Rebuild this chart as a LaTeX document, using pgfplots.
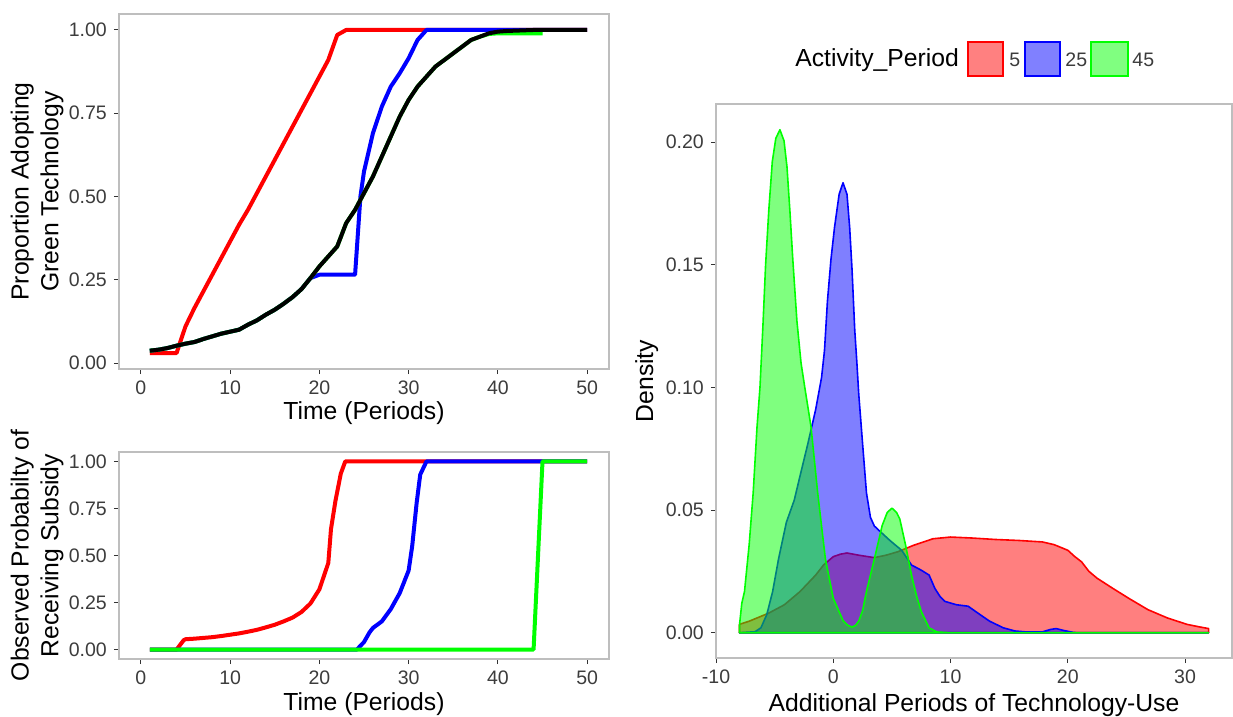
\documentclass[border=0pt]{standalone}
\usepackage{pgfplots}
\pgfplotsset{compat=1.18}
\usepackage{fontspec}
\setmainfont{Liberation Sans}

\definecolor{frame}{RGB}{190,190,190}
\definecolor{tickc}{RGB}{51,51,51}
\definecolor{ticktext}{RGB}{60,60,60}
\definecolor{ggred}{RGB}{255,0,0}
\definecolor{ggblue}{RGB}{0,0,255}
\definecolor{gggreen}{RGB}{0,255,0}

\newcommand\tickfont{\fontsize{9.8}{11}\selectfont}
\newcommand\titlefont{\fontsize{12.4}{15}\selectfont}

\pgfplotsset{
  panel/.style={
    scale only axis, anchor=south west,
    axis line style={draw=frame, line width=0.7bp},
    tick align=outside, major tick length=2.6bp,
    tick style={draw=tickc, line width=0.5bp},
    xtick pos=bottom, ytick pos=left,
    tick label style={font=\tickfont, text=ticktext},
    label style={font=\titlefont},
    /pgf/number format/assume math mode=true,
    yticklabel style={/pgf/number format/fixed, /pgf/number format/fixed zerofill,
      /pgf/number format/precision=2},
    clip=true,
  },
  line/.style={line width=2bp, line join=round},
  dens/.style={line width=0.8bp, fill opacity=0.5, draw opacity=1, line join=round},
}

\begin{document}
\begin{tikzpicture}
\path[use as bounding box] (0,0) rectangle (616.5bp,358.5bp);

% top left: adoption
\begin{axis}[panel, at={(59.5bp,174bp)}, width=245bp, height=177.5bp,
  xmin=-2.45, xmax=52.45, ymin=-0.018, ymax=1.048,
  xtick={0,10,20,30,40,50}, ytick={0,0.25,0.5,0.75,1},
  xlabel={Time (Periods)},
  xlabel style={at={(axis description cs:0.5,0)}, anchor=base, yshift=-25.5bp},
  ylabel={Proportion Adopting\\Green Technology},
  ylabel style={align=center, at={(axis description cs:-0.167,0.5)}, anchor=center},
]
\addplot[line, ggred] coordinates {
 (1,0.03) (2,0.03) (3,0.03) (4,0.03) (4.5,0.07) (5,0.11) (6,0.165) (7,0.215)
 (8,0.265) (9,0.315) (10,0.365) (11,0.415) (12,0.46) (13,0.51) (14,0.56)
 (15,0.61) (16,0.66) (17,0.71) (18,0.76) (19,0.81) (20,0.86) (21,0.91)
 (22,0.985) (23,1) (30,1) (40,1) (50,1)};
\addplot[line, ggblue] coordinates {
 (1,0.037) (2,0.040) (3,0.045) (4,0.052) (5,0.058) (6,0.063) (7,0.072)
 (8,0.080) (9,0.088) (10,0.094) (11,0.100) (12,0.115) (13,0.128) (14,0.145)
 (15,0.160) (16,0.178) (17,0.198) (18,0.222) (19,0.255) (20,0.265) (24,0.265)
 (24.6,0.5) (25,0.575) (26,0.69) (27,0.77) (28,0.83) (29,0.87) (30,0.915)
 (31,0.97) (32,1) (40,1) (50,1)};
\addplot[line, gggreen] coordinates {
 (1,0.037) (2,0.040) (3,0.045) (4,0.052) (5,0.058) (6,0.063) (7,0.072)
 (8,0.080) (9,0.088) (10,0.094) (11,0.100) (12,0.115) (13,0.128) (14,0.145)
 (15,0.160) (16,0.178) (17,0.198) (18,0.222) (19,0.255) (20,0.29) (21,0.32)
 (22,0.35) (23,0.42) (24,0.46) (25,0.51) (26,0.56) (27,0.62) (28,0.68)
 (29,0.74) (30,0.79) (31,0.83) (32,0.86) (33,0.89) (34,0.91) (35,0.93)
 (36,0.95) (37,0.97) (38,0.98) (39,0.988) (40,0.99) (45,0.99)};
\addplot[line, black] coordinates {
 (1,0.037) (2,0.040) (3,0.045) (4,0.052) (5,0.058) (6,0.063) (7,0.072)
 (8,0.080) (9,0.088) (10,0.094) (11,0.100) (12,0.115) (13,0.128) (14,0.145)
 (15,0.160) (16,0.178) (17,0.198) (18,0.222) (19,0.255) (20,0.29) (21,0.32)
 (22,0.35) (23,0.42) (24,0.46) (25,0.51) (26,0.56) (27,0.62) (28,0.68)
 (29,0.74) (30,0.79) (31,0.83) (32,0.86) (33,0.89) (34,0.91) (35,0.93)
 (36,0.95) (37,0.97) (38,0.98) (39,0.99) (40,0.995) (41,0.997) (42,0.998)
 (43,0.999) (44,1) (50,1)};
\end{axis}

% bottom left: subsidy
\begin{axis}[panel, at={(59.5bp,29bp)}, width=245bp, height=103.5bp,
  xmin=-2.45, xmax=52.45, ymin=-0.05, ymax=1.05,
  xtick={0,10,20,30,40,50}, ytick={0,0.25,0.5,0.75,1},
  xlabel={Time (Periods)},
  xlabel style={at={(axis description cs:0.5,0)}, anchor=base, yshift=-25.5bp},
  ylabel={Observed Probabilty of\\Receiving Subsidy},
  ylabel style={align=center, at={(axis description cs:-0.167,0.5)}, anchor=center},
]
\addplot[line, ggred] coordinates {
 (1,0) (4,0) (4.8,0.05) (5,0.055) (6,0.058) (7,0.062) (8,0.066) (9,0.072)
 (10,0.079) (11,0.086) (12,0.095) (13,0.105) (14,0.118) (15,0.132) (16,0.15)
 (17,0.17) (18,0.2) (19,0.245) (20,0.32) (20.5,0.39) (21,0.46) (21.3,0.64)
 (21.8,0.79) (22.4,0.935) (22.9,1) (30,1) (50,1)};
\addplot[line, ggblue] coordinates {
 (1,0) (24.2,0) (25,0.04) (25.6,0.09) (26,0.115) (27,0.15) (28,0.215)
 (29,0.3) (30,0.42) (30.4,0.55) (30.9,0.78) (31.3,0.93) (32,1) (40,1) (50,1)};
\addplot[line, gggreen] coordinates {
 (1,0) (10,0) (20,0) (30,0) (44,0) (45,1) (50,1)};
\end{axis}

% right: densities
\begin{axis}[panel, at={(358bp,29.5bp)}, width=258bp, height=277bp,
  xmin=-10, xmax=34, ymin=-0.0103, ymax=0.2155,
  xtick={-10,0,10,20,30}, xticklabels={-10,0,10,20,30},
  ytick={0,0.05,0.1,0.15,0.2},
  xlabel={Additional Periods of Technology-Use},
  xlabel style={at={(axis description cs:0.5,0)}, anchor=base, yshift=-26.5bp},
  ylabel={Density},
  ylabel style={at={(axis description cs:-0.134,0.5)}, anchor=center},
]
\addplot[dens, draw=ggred, fill=ggred] coordinates {
 (-8,0) (-8,0.0034) (-7.17,0.0047) (-5.5,0.008) (-4.17,0.0114) (-2.83,0.0168)
 (-1.5,0.0235) (-0.83,0.0276) (0,0.031) (0.6,0.032) (1.17,0.0325) (2.17,0.0316)
 (3.5,0.0306) (4.5,0.0316) (5.5,0.033) (6.83,0.0356) (8.5,0.0383) (10,0.039)
 (11.83,0.0386) (13.83,0.038) (15.83,0.0376) (17.83,0.037) (18.83,0.0359)
 (20,0.0336) (20.6,0.031) (21.17,0.0289) (21.8,0.025) (22.5,0.0222)
 (23.83,0.0181) (25.17,0.0141) (26.83,0.0094) (28.5,0.006) (30.17,0.0034)
 (31.2,0.0024) (32,0.0017) (32,0)} -- cycle;
\addplot[dens, draw=ggblue, fill=ggblue] coordinates {
 (-8,0) (-6.67,0.0004) (-6.17,0.002) (-5.67,0.0074) (-5.17,0.0168)
 (-4.67,0.03) (-4,0.045) (-3.33,0.054) (-2.83,0.064) (-2.17,0.077)
 (-1.5,0.091) (-1,0.104) (-0.75,0.115) (-0.5,0.135) (-0.2,0.152) (0.1,0.165)
 (0.5,0.1787) (0.83,0.1834) (1.17,0.1787) (1.4,0.165) (1.6,0.148) (1.83,0.1234)
 (2,0.111) (2.17,0.0974) (2.5,0.077) (2.83,0.057) (3.17,0.047) (3.5,0.0435)
 (3.83,0.042) (4.83,0.0376) (5.83,0.0336) (6.67,0.0276) (7.5,0.0255)
 (8.17,0.0235) (8.67,0.018) (9.1,0.0148) (9.5,0.0128) (10.5,0.0114)
 (11.5,0.0108) (12.33,0.008) (13.33,0.0047) (14.5,0.002) (15.5,0.0007)
 (16.5,0.0003) (17.8,0.0003) (18.5,0.0013) (19,0.0017) (19.67,0.0009)
 (20.5,0.0001) (21,0) (32,0)} -- cycle;
\addplot[dens, draw=gggreen, fill=gggreen] coordinates {
 (-8,0) (-8,0.003) (-7.8,0.012) (-7.57,0.0168) (-7.17,0.036) (-6.83,0.057)
 (-6.5,0.084) (-6.25,0.1) (-6.0,0.125) (-5.77,0.15) (-5.5,0.172) (-5.2,0.192)
 (-4.9,0.2015) (-4.55,0.205) (-4.2,0.2005) (-3.95,0.19) (-3.7,0.172)
 (-3.45,0.152) (-3.1,0.127) (-2.75,0.11) (-2.43,0.1) (-1.9,0.084)
 (-1.33,0.057) (-0.67,0.03) (0,0.014) (0.83,0.005) (1.25,0.003) (1.6,0.0023)
 (1.9,0.003) (2.17,0.0047) (2.5,0.009) (2.83,0.0168) (3.5,0.03) (4.17,0.0437)
 (4.6,0.049) (5,0.0508) (5.4,0.049) (5.67,0.0464) (6.17,0.0356) (6.67,0.0235)
 (7.1,0.015) (7.5,0.0087) (8.17,0.002) (8.83,0.0003) (10,0) (32,0)} -- cycle;
\end{axis}

% legend
\node[anchor=base west, font=\titlefont, inner sep=0pt] at (397.5bp,325bp) {Activity\_Period};
\draw[line width=0.6bp, draw=ggred, fill=ggred!50] (484bp,320.5bp) rectangle (501.5bp,337.5bp);
\draw[line width=0.6bp, draw=ggblue, fill=ggblue!50] (512.5bp,320.5bp) rectangle (530bp,337.5bp);
\draw[line width=0.6bp, draw=gggreen, fill=gggreen!50] (545.5bp,320.5bp) rectangle (564bp,337.5bp);
\node[anchor=base west, font=\tickfont, text=ticktext, inner sep=0pt] at (504.5bp,325bp) {5};
\node[anchor=base west, font=\tickfont, text=ticktext, inner sep=0pt] at (532.5bp,325bp) {25};
\node[anchor=base west, font=\tickfont, text=ticktext, inner sep=0pt] at (566bp,325bp) {45};
\end{tikzpicture}
\end{document}
